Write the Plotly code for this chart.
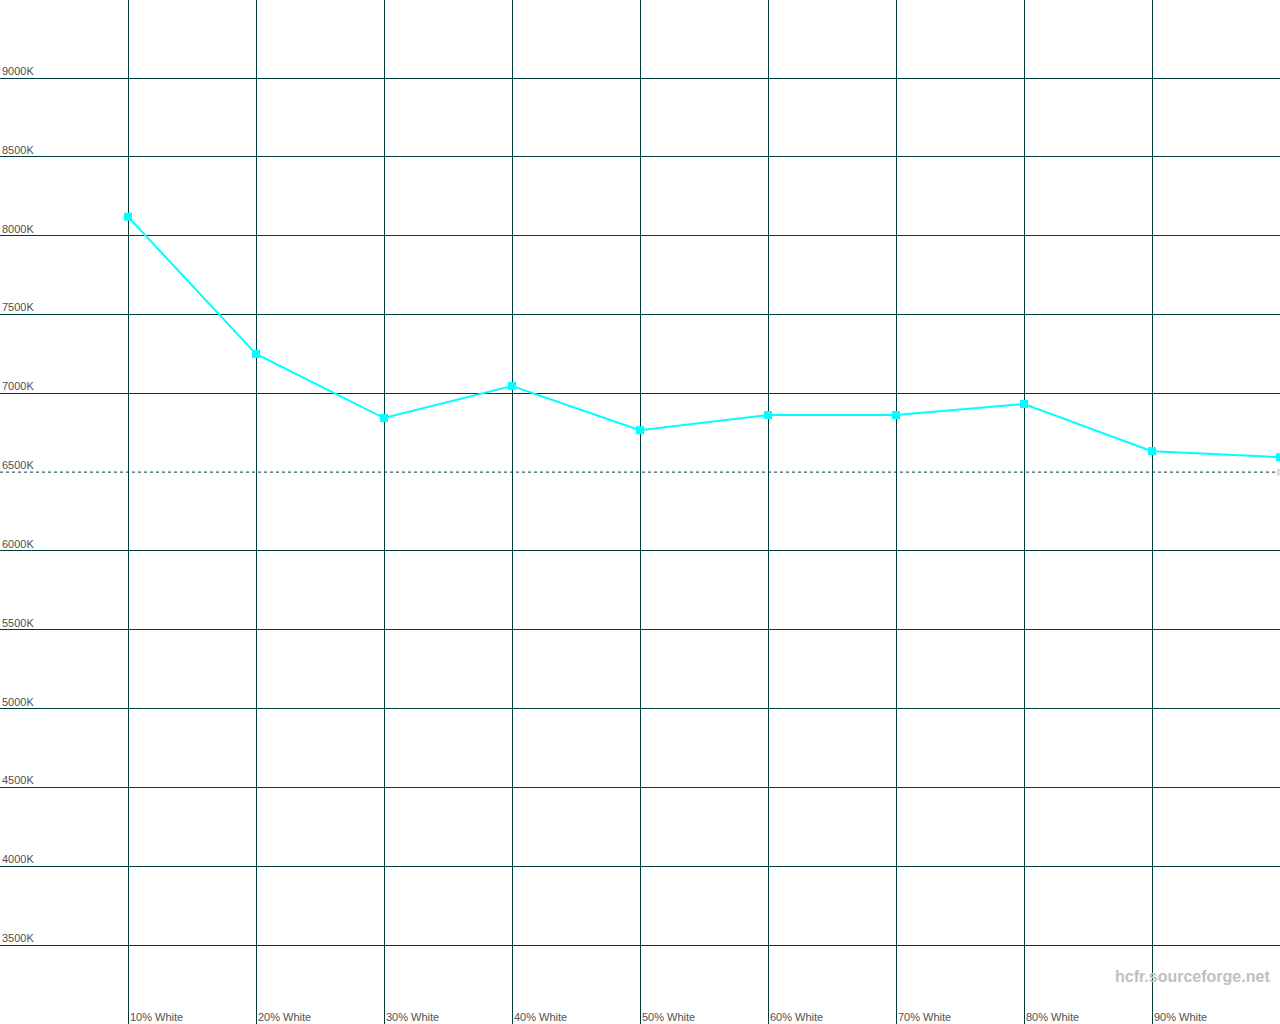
import plotly.graph_objects as go

categories = ["10% White", "20% White", "30% White", "40% White", "50% White",
              "60% White", "70% White", "80% White", "90% White", "100% White"]
x_levels = [10, 20, 30, 40, 50, 60, 70, 80, 90, 100]
temps = [8120, 7250, 6843, 7046, 6766, 6862, 6862, 6932, 6633, 6595]
ref_temp = 6500

y_ticks = [3500, 4000, 4500, 5000, 5500, 6000, 6500, 7000, 7500, 8000, 8500, 9000]
y_tick_labels = ["3500K", "4000K", "4500K", "5000K", "5500K", "6000K", "6500K",
                 "7000K", "7500K", "8000K", "8500K", "9000K"]

grid_color = "#003c3c"
text_color = "#505050"
font_family = "Liberation Sans, Arial, sans-serif"

fig = go.Figure()

# reference 6500K dashed line
fig.add_trace(go.Scatter(
    x=[0, 100], y=[ref_temp, ref_temp], mode="lines",
    line=dict(color=grid_color, width=1, dash="3px,3px"),
    hoverinfo="skip", showlegend=False))
fig.add_trace(go.Scatter(
    x=[100], y=[ref_temp], mode="markers",
    marker=dict(symbol="square", size=7, color="#e0e0e0"),
    hoverinfo="skip", showlegend=False, cliponaxis=False))

fig.add_trace(go.Scatter(
    x=x_levels, y=temps, mode="lines+markers",
    line=dict(color="#00ffff", width=2),
    marker=dict(symbol="square", size=8, color="#00ffff"),
    text=categories, showlegend=False, cliponaxis=False))

grid_vals = [v for v in y_ticks if v != ref_temp]

fig.update_layout(
    width=1280, height=1024,
    margin=dict(l=0, r=0, t=0, b=0),
    paper_bgcolor="white", plot_bgcolor="white",
    font=dict(family=font_family, size=11, color=text_color),
    xaxis=dict(range=[0, 100], tickvals=[0, 10, 20, 30, 40, 50, 60, 70, 80, 90, 100],
               showgrid=True, gridcolor=grid_color, gridwidth=1,
               showticklabels=False, zeroline=False, showline=False, ticks=""),
    yaxis=dict(range=[2999, 9495], tickvals=grid_vals,
               showgrid=True, gridcolor=grid_color, gridwidth=1,
               showticklabels=False, zeroline=False, showline=False, ticks=""),
)

for v, lab in zip(y_ticks, y_tick_labels):
    fig.add_annotation(x=0, y=v, xref="paper", yref="y", text=lab,
                       showarrow=False, xanchor="left", yanchor="bottom",
                       xshift=0, yshift=-1,
                       font=dict(family=font_family, size=11, color=text_color))

for xv, lab in zip(x_levels[:-1], categories[:-1]):
    fig.add_annotation(x=xv, y=0, xref="x", yref="paper", text=lab,
                       showarrow=False, xanchor="left", yanchor="bottom",
                       xshift=0, yshift=-1,
                       font=dict(family=font_family, size=11, color=text_color))

fig.add_annotation(x=1, y=0, xref="paper", yref="paper", text="<b>hcfr.sourceforge.net</b>",
                   showarrow=False, xanchor="right", yanchor="bottom",
                   xshift=-8, yshift=37,
                   font=dict(family=font_family, size=16, color="#c0c0c0"))

fig.write_html("out.html", config={"displayModeBar": False},
               post_script="document.body.style.margin='0';document.body.style.overflow='hidden';")
